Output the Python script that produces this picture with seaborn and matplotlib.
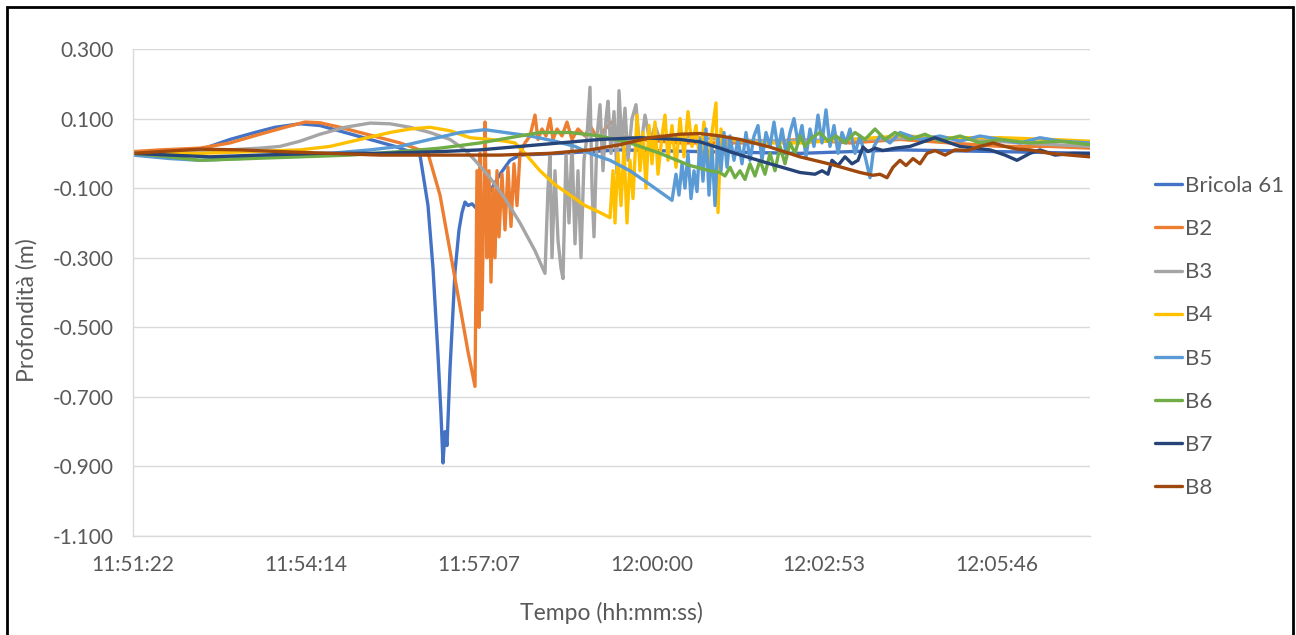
import numpy as np
import pandas as pd
import matplotlib
matplotlib.use("Agg")
import matplotlib.pyplot as plt
import seaborn as sns
from matplotlib.ticker import FuncFormatter
from matplotlib.patches import Rectangle

# Recording start: 11:51:21.6 (seconds after midnight); times below are seconds from start
START_S = 11 * 3600 + 51 * 60 + 21.6
TICK_STEP_S = 172.8  # 0.002 day

series = ["Bricola 61", "B2", "B3", "B4", "B5", "B6", "B7", "B8"]
colors = ["#4472C4", "#ED7D31", "#A5A5A5", "#FFC000",
          "#5B9BD5", "#70AD47", "#264478", "#9E480E"]

t_b61 = [0, 27, 57, 77, 97, 122, 142, 167, 187, 212, 237, 262, 277, 287, 295, 300, 305, 308, 310, 312,
         314, 317, 322, 326, 329, 332, 335, 339, 344, 357, 367, 377, 387, 427, 487, 567, 667, 767, 867, 957]
v_b61 = [0.0, -0.005, 0.0, 0.02, 0.04, 0.06, 0.075, 0.085, 0.08, 0.06, 0.04, 0.02, 0.005, -0.005, -0.15,
         -0.33, -0.58, -0.75, -0.89, -0.80, -0.84, -0.62, -0.34, -0.22, -0.17, -0.14, -0.15, -0.145, -0.16,
         -0.11, -0.06, -0.02, -0.005, 0.0, 0.01, 0.005, 0.0, 0.01, 0.005, 0.0]

t_b2 = [0, 27, 67, 97, 127, 152, 172, 187, 207, 227, 247, 267, 282, 295, 307, 317, 327, 335, 342, 344,
        346, 347, 349, 351, 352, 354, 356, 358, 360, 362, 364, 366, 369, 372, 375, 378, 381, 384, 387, 392,
        397, 402, 405, 409, 413, 417, 420, 424, 429, 434, 439, 445, 452, 457, 465, 472, 479, 487, 507, 547,
        617, 667, 717, 767, 817, 867, 917, 957]
v_b2 = [0.005, 0.01, 0.015, 0.03, 0.055, 0.075, 0.09, 0.088, 0.075, 0.06,
        0.045, 0.03, 0.015, 0.0, -0.12, -0.28, -0.44, -0.57, -0.67, -0.05,
        -0.50, 0.0, -0.45, -0.10, 0.09, -0.30, -0.05, -0.37, -0.10, -0.30,
        -0.05, -0.24, -0.06, -0.22, -0.04, -0.21, -0.03, -0.15, 0.0, 0.03,
        0.05, 0.11, 0.04, 0.07, 0.05, 0.10, 0.04, 0.07, 0.05, 0.09,
        0.04, 0.07, 0.05, 0.08, 0.04, 0.07, 0.09, 0.05, 0.04, 0.03,
        0.03, 0.04, 0.03, 0.04, 0.03, 0.02, 0.02, 0.015]

t_b3 = [0, 47, 97, 127, 147, 167, 187, 212, 237, 257, 277, 297, 317, 332, 342, 357, 372, 387, 402, 412,
        415, 417, 419, 422, 425, 428, 430, 433, 436, 439, 442, 445, 448, 451, 454, 457, 459, 461, 464, 467,
        470, 473, 475, 478, 481, 484, 486, 489, 492, 495, 499, 503, 507, 512, 517, 522, 527, 547, 587, 647,
        717, 817, 887, 957]
v_b3 = [0.0, 0.005, 0.01, 0.015, 0.02, 0.035, 0.055, 0.075, 0.087, 0.085,
        0.075, 0.06, 0.04, 0.01, -0.02, -0.07, -0.13, -0.20, -0.28, -0.345,
        -0.10, 0.0, -0.30, -0.05, -0.25, -0.33, -0.36, 0.0, -0.20, 0.03,
        -0.26, -0.05, -0.30, -0.02, 0.05, 0.19, -0.10, -0.24, 0.05, 0.14,
        -0.05, 0.10, 0.15, 0.0, 0.12, -0.06, 0.18, 0.02, 0.13, -0.02,
        0.10, 0.14, 0.0, 0.11, 0.03, 0.08, 0.04, 0.05, 0.04, 0.035,
        0.04, 0.045, 0.03, 0.02]

t_b4 = [0, 67, 117, 167, 197, 227, 257, 277, 297, 317, 337, 357, 372, 382, 392, 407, 422, 437, 452, 467,
        477, 480, 482, 485, 488, 491, 494, 497, 500, 504, 507, 510, 513, 516, 519, 522, 525, 529, 532, 535,
        539, 543, 547, 551, 555, 559, 563, 567, 571, 575, 579, 583, 585, 588, 592, 597, 627, 667, 717, 767,
        817, 867, 917, 957]
v_b4 = [0.0, 0.0, 0.005, 0.01, 0.02, 0.04, 0.06, 0.07, 0.075, 0.065,
        0.045, 0.04, 0.035, 0.03, 0.0, -0.05, -0.09, -0.12, -0.15, -0.17,
        -0.185, -0.05, -0.20, 0.0, -0.15, 0.02, -0.20, -0.02, -0.13, 0.11,
        -0.05, 0.06, -0.10, 0.08, -0.03, 0.09, -0.06, 0.05, 0.11, -0.02,
        0.08, -0.04, 0.10, -0.01, 0.12, 0.02, 0.08, -0.03, 0.09, -0.05,
        0.06, 0.145, -0.17, 0.07, 0.0, 0.04, 0.03, 0.03, 0.04, 0.05,
        0.045, 0.045, 0.04, 0.035]

t_b5 = [0, 37, 67, 107, 147, 197, 237, 267, 297, 327, 352, 372, 397, 422, 442, 457, 477, 497, 517, 539,
        543, 546, 549, 552, 555, 558, 561, 564, 567, 570, 573, 576, 579, 582, 585, 588, 591, 594, 597, 601,
        605, 609, 613, 617, 621, 625, 629, 633, 637, 641, 645, 649, 653, 657, 661, 665, 669, 673, 677, 681,
        685, 689, 693, 697, 701, 705, 709, 713, 717, 722, 727, 733, 737, 741, 747, 757, 767, 787, 807, 827,
        847, 867, 887, 907, 927, 957]
v_b5 = [-0.005, -0.015, -0.02, -0.015, -0.005, 0.0, 0.01, 0.02, 0.04, 0.06,
        0.068, 0.06, 0.05, 0.035, 0.02, 0.0, -0.02, -0.05, -0.09, -0.135,
        -0.06, -0.12, -0.03, -0.10, 0.0, -0.13, -0.05, -0.11, 0.04, -0.08,
        0.07, -0.12, 0.02, -0.15, 0.05, -0.05, 0.06, -0.04, 0.05, -0.02,
        0.04, -0.03, 0.06, -0.02, 0.05, 0.08, -0.02, 0.06, 0.02, 0.09,
        0.01, 0.07, 0.0, 0.06, 0.10, 0.03, 0.08, -0.01, 0.07, 0.02,
        0.11, 0.03, 0.125, 0.02, 0.08, 0.0, 0.06, 0.03, 0.07, 0.0,
        0.05, -0.02, -0.07, 0.02, 0.05, 0.03, 0.06, 0.04, 0.05, 0.035,
        0.05, 0.04, 0.03, 0.045, 0.035, 0.03]

t_b6 = [0, 37, 67, 117, 167, 217, 267, 307, 347, 377, 407, 437, 467, 497, 527, 557, 577, 587, 592, 597,
        602, 607, 612, 617, 622, 627, 632, 637, 642, 647, 652, 657, 662, 667, 672, 679, 687, 695, 703, 712,
        722, 732, 742, 752, 762, 777, 792, 807, 827, 847, 867, 897, 927, 957]
v_b6 = [0.0, -0.01, -0.02, -0.015, -0.01, -0.005, 0.005, 0.015, 0.03, 0.045,
        0.06, 0.06, 0.05, 0.03, 0.0, -0.035, -0.05, -0.055, -0.065, -0.04,
        -0.07, -0.05, -0.075, -0.03, -0.065, -0.02, -0.06, 0.0, -0.05, 0.02,
        -0.03, 0.03, 0.0, 0.05, 0.02, 0.045, 0.06, 0.035, 0.05, 0.03,
        0.06, 0.04, 0.07, 0.04, 0.06, 0.04, 0.055, 0.035, 0.05, 0.03,
        0.04, 0.03, 0.035, 0.025]

t_b7 = [0, 37, 77, 127, 187, 247, 307, 347, 387, 427, 467, 507, 547, 567, 587, 602, 637, 667, 682, 689,
        695, 699, 705, 712, 719, 725, 730, 735, 742, 750, 762, 777, 792, 802, 812, 827, 842, 857, 872, 884,
        897, 907, 922, 940, 957]
v_b7 = [0.0, -0.005, -0.01, -0.005, 0.0, 0.0, 0.005, 0.01, 0.02, 0.03,
        0.04, 0.045, 0.04, 0.033, 0.015, 0.0, -0.03, -0.055, -0.06, -0.05,
        -0.06, -0.02, -0.035, -0.01, -0.03, -0.02, 0.018, 0.005, 0.015, 0.008,
        0.015, 0.02, 0.035, 0.045, 0.035, 0.02, 0.015, 0.01, -0.005, -0.02,
        0.0, 0.01, -0.005, 0.0, 0.0]

t_b8 = [0, 27, 67, 107, 147, 197, 247, 307, 367, 417, 457, 487, 517, 547, 567, 587, 607, 637, 667, 700,
        727, 740, 747, 754, 760, 767, 773, 780, 787, 794, 802, 812, 822, 834, 847, 860, 872, 884, 897, 917,
        937, 957]
v_b8 = [0.0, 0.005, 0.012, 0.01, 0.005, 0.0, -0.005, -0.005, -0.005, 0.0,
        0.01, 0.025, 0.045, 0.055, 0.057, 0.05, 0.04, 0.018, -0.01, -0.033,
        -0.055, -0.063, -0.06, -0.07, -0.04, -0.02, -0.035, -0.015, -0.03, 0.0,
        0.008, -0.005, 0.01, 0.008, 0.02, 0.03, 0.02, 0.012, 0.01, 0.0,
        -0.005, -0.01]

y_ticks = [-1.1, -0.9, -0.7, -0.5, -0.3, -0.1, 0.1, 0.3]

times = [t_b61, t_b2, t_b3, t_b4, t_b5, t_b6, t_b7, t_b8]
values = [v_b61, v_b2, v_b3, v_b4, v_b5, v_b6, v_b7, v_b8]

df = pd.concat(
    [pd.DataFrame({"t": t, "depth": v, "serie": name})
     for name, t, v in zip(series, times, values)],
    ignore_index=True,
)

sns.set_theme(style="white")
plt.rcParams["font.family"] = ["Lato", "DejaVu Sans"]

TEXT = "#595959"
GRID = "#D9D9D9"

fig = plt.figure(figsize=(12.96, 6.35), dpi=100)
ax = fig.add_axes([133 / 1296, 1 - 536 / 635, (1090 - 133) / 1296, (536 - 49) / 635])

sns.lineplot(data=df, x="t", y="depth", hue="serie", hue_order=series,
             palette=colors, estimator=None, sort=False, linewidth=2.4, ax=ax)

ax.set_xlim(0, 957)
ax.set_ylim(-1.1, 0.3)
ax.set_xticks(np.arange(0, 957, TICK_STEP_S))
ax.set_yticks(y_ticks)


def clock(x, pos):
    s = int(round(START_S + x))
    return f"{s // 3600:02d}:{(s % 3600) // 60:02d}:{s % 60:02d}"


ax.xaxis.set_major_formatter(FuncFormatter(clock))
ax.yaxis.set_major_formatter(FuncFormatter(lambda y, p: f"{y:.3f}"))

ax.yaxis.grid(True, color=GRID, linewidth=1.0)
ax.xaxis.grid(False)
for side in ("top", "right"):
    ax.spines[side].set_visible(False)
for side in ("left", "bottom"):
    ax.spines[side].set_color(GRID)
    ax.spines[side].set_linewidth(1.0)
ax.tick_params(axis="both", length=0, colors=TEXT, labelsize=15)
ax.tick_params(axis="y", pad=14)
ax.tick_params(axis="x", pad=14)
ax.set_xlabel("")
ax.set_ylabel("")

fig.text(611 / 1296, 1 - 613 / 635, "Tempo (hh:mm:ss)", ha="center", va="center",
         color=TEXT, fontsize=16.5)
fig.text(27 / 1296, 1 - 310 / 635, "Profondità (m)", ha="center", va="center",
         rotation=90, color=TEXT, fontsize=16.5)

handles, labels = ax.get_legend_handles_labels()
leg = ax.legend(handles, labels, loc="center left",
                bbox_to_anchor=(1155 / 1296, 1 - 337 / 635), bbox_transform=fig.transFigure,
                frameon=False, fontsize=16, handlelength=1.2, handletextpad=0.15,
                labelspacing=1.04, borderpad=0, borderaxespad=0)
for txt in leg.get_texts():
    txt.set_color(TEXT)

fig.add_artist(Rectangle((6.5 / 1296, -0.05), (1293 - 6.5) / 1296, 1.05 - 7 / 635,
                         transform=fig.transFigure, fill=False, edgecolor="black", linewidth=2))

fig.savefig("out.png", dpi=100)
